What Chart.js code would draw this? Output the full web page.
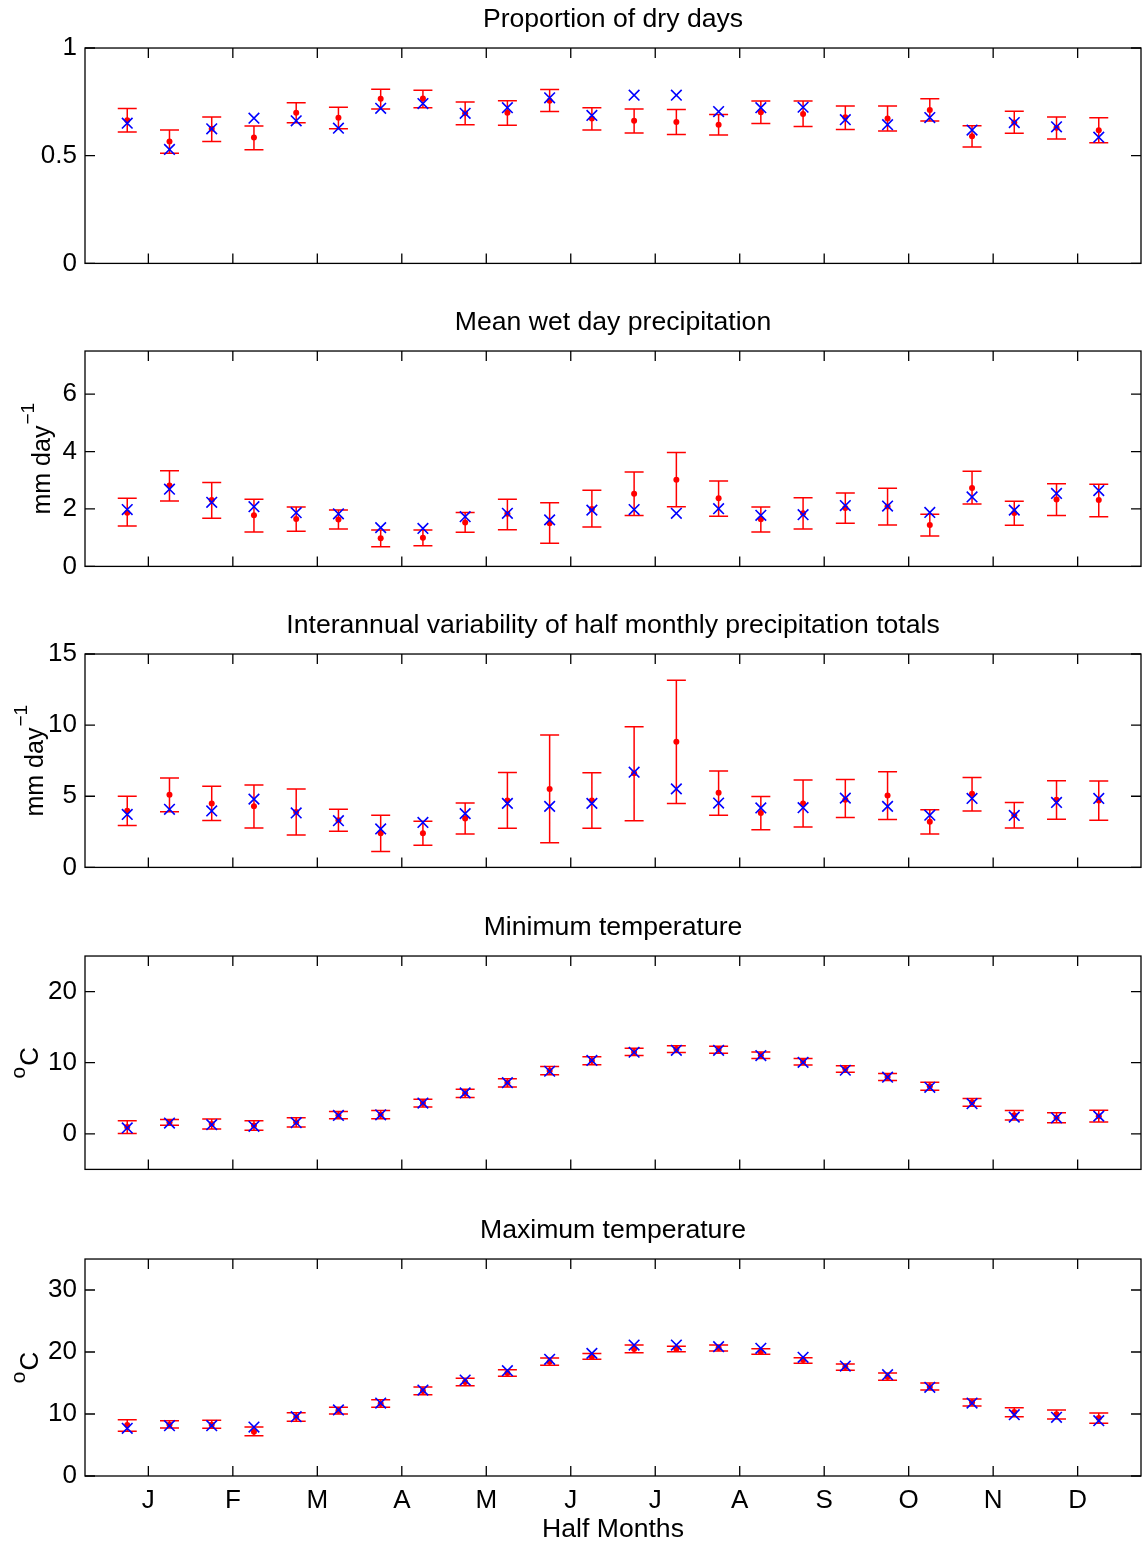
<!DOCTYPE html>
<html>
<head>
<meta charset="utf-8">
<title>Half monthly climate statistics</title>
<script src="https://cdn.jsdelivr.net/npm/chart.js@4.4.1/dist/chart.umd.min.js"></script>
<style>
  body { margin: 0; background: #fff; }
  #fig { position: relative; width: 1142px; height: 1549px; }
  #fig canvas { position: absolute; left: 0; }
</style>
</head>
<body>
<div id="fig">
  <canvas id="dry" width="1142" height="287" style="top:0px"></canvas>
  <canvas id="wet" width="1142" height="287" style="top:303px"></canvas>
  <canvas id="ivar" width="1142" height="285" style="top:606px"></canvas>
  <canvas id="tmin" width="1142" height="285" style="top:908px"></canvas>
  <canvas id="tmax" width="1142" height="338" style="top:1211px"></canvas>
</div>
<script>
// x positions (half months) and month ticks
const halfMonths = [1, 2, 3, 4, 5, 6, 7, 8, 9, 10, 11, 12, 13, 14, 15, 16, 17, 18, 19, 20, 21, 22, 23, 24];
const monthTicks = [1.5, 3.5, 5.5, 7.5, 9.5, 11.5, 13.5, 15.5, 17.5, 19.5, 21.5, 23.5];
const monthLabels = ['J', 'F', 'M', 'A', 'M', 'J', 'J', 'A', 'S', 'O', 'N', 'D'];

// Proportion of dry days
const dryObs  = [0.651, 0.529, 0.625, 0.674, 0.662, 0.628, 0.720, 0.742, 0.697, 0.723, 0.769, 0.687, 0.781, 0.781, 0.705, 0.723, 0.725, 0.667, 0.644, 0.677, 0.619, 0.654, 0.634, 0.586];
const dryMean = [0.665, 0.566, 0.625, 0.584, 0.700, 0.676, 0.764, 0.766, 0.697, 0.700, 0.755, 0.673, 0.662, 0.656, 0.644, 0.702, 0.694, 0.679, 0.673, 0.712, 0.590, 0.654, 0.630, 0.618];
const dryLow  = [0.610, 0.511, 0.566, 0.528, 0.653, 0.625, 0.717, 0.723, 0.644, 0.642, 0.705, 0.619, 0.606, 0.598, 0.596, 0.650, 0.636, 0.622, 0.615, 0.661, 0.541, 0.604, 0.578, 0.560];
const dryHigh = [0.719, 0.619, 0.680, 0.638, 0.746, 0.725, 0.809, 0.804, 0.749, 0.755, 0.807, 0.723, 0.717, 0.714, 0.691, 0.754, 0.754, 0.731, 0.731, 0.765, 0.639, 0.706, 0.680, 0.676];
const dryTicks = [0, 0.5, 1];

// Mean wet day precipitation
const wetObs  = [1.98, 2.69, 2.23, 2.08, 1.87, 1.83, 1.35, 1.32, 1.73, 1.85, 1.62, 1.96, 1.98, 1.85, 2.01, 1.78, 1.80, 2.12, 2.10, 1.88, 2.42, 1.96, 2.54, 2.64];
const wetMean = [1.87, 2.82, 2.31, 1.78, 1.65, 1.63, 0.98, 1.00, 1.53, 1.83, 1.50, 2.00, 2.53, 3.02, 2.37, 1.64, 1.85, 2.03, 2.09, 1.44, 2.73, 1.86, 2.33, 2.31];
const wetLow  = [1.41, 2.28, 1.68, 1.20, 1.22, 1.30, 0.68, 0.72, 1.19, 1.28, 0.81, 1.37, 1.77, 2.08, 1.75, 1.20, 1.30, 1.50, 1.44, 1.06, 2.17, 1.43, 1.77, 1.73];
const wetHigh = [2.37, 3.33, 2.92, 2.34, 2.07, 1.96, 1.27, 1.27, 1.88, 2.34, 2.22, 2.65, 3.29, 3.97, 2.97, 2.07, 2.39, 2.56, 2.72, 1.82, 3.31, 2.27, 2.88, 2.86];
const wetTicks = [0, 2, 4, 6];

// Interannual variability of half monthly totals
const varObs  = [3.72, 4.08, 3.97, 4.80, 3.83, 3.28, 2.70, 3.16, 3.78, 4.50, 4.29, 4.50, 6.69, 5.52, 4.52, 4.18, 4.20, 4.87, 4.29, 3.67, 4.85, 3.65, 4.57, 4.85];
const varMean = [3.99, 5.10, 4.50, 4.29, 3.90, 3.32, 2.40, 2.40, 3.44, 4.71, 5.52, 4.71, 6.62, 8.84, 5.24, 3.83, 4.50, 4.75, 5.05, 3.21, 5.17, 3.67, 4.75, 4.71];
const varLow  = [2.95, 3.92, 3.30, 2.77, 2.28, 2.54, 1.11, 1.55, 2.35, 2.75, 1.73, 2.75, 3.28, 4.50, 3.67, 2.65, 2.84, 3.51, 3.37, 2.35, 3.97, 2.77, 3.39, 3.32];
const varHigh = [5.01, 6.28, 5.70, 5.79, 5.52, 4.08, 3.67, 3.25, 4.52, 6.67, 9.30, 6.65, 9.88, 13.15, 6.78, 4.98, 6.14, 6.18, 6.72, 4.06, 6.32, 4.57, 6.09, 6.07];
const varTicks = [0, 5, 10, 15];

// Minimum temperature
const tminObs  = [0.83, 1.52, 1.29, 1.06, 1.57, 2.58, 2.67, 4.33, 5.76, 7.19, 8.80, 10.32, 11.47, 11.75, 11.75, 11.01, 10.05, 8.94, 7.97, 6.54, 4.24, 2.35, 2.26, 2.49];
const tminMean = [0.95, 1.62, 1.38, 1.18, 1.62, 2.63, 2.70, 4.33, 5.70, 7.17, 8.87, 10.28, 11.52, 11.92, 11.82, 11.06, 10.14, 9.13, 8.00, 6.69, 4.43, 2.61, 2.26, 2.49];
const tminLow  = [0.05, 1.20, 0.69, 0.51, 0.97, 2.12, 2.12, 3.78, 5.12, 6.59, 8.29, 9.72, 11.01, 11.43, 11.34, 10.60, 9.68, 8.66, 7.51, 6.13, 3.87, 1.94, 1.57, 1.66];
const tminHigh = [1.84, 2.03, 2.07, 1.84, 2.26, 3.13, 3.27, 4.88, 6.27, 7.74, 9.45, 10.83, 12.03, 12.40, 12.30, 11.52, 10.60, 9.59, 8.48, 7.24, 4.98, 3.27, 2.95, 3.32];
const tminTicks = [0, 10, 20];

// Maximum temperature
const tmaxObs  = [7.69, 8.12, 8.12, 7.90, 9.57, 10.65, 11.77, 13.87, 15.48, 16.99, 18.82, 19.78, 21.13, 21.13, 20.86, 20.59, 19.14, 17.74, 16.34, 14.30, 11.77, 9.89, 9.46, 8.92];
const tmaxMean = [8.23, 8.28, 8.28, 7.15, 9.52, 10.54, 11.67, 13.71, 15.16, 16.61, 18.44, 19.25, 20.48, 20.48, 20.70, 20.00, 18.71, 17.58, 16.02, 14.35, 11.88, 10.32, 9.95, 9.35];
const tmaxLow  = [7.20, 7.74, 7.69, 6.51, 8.82, 10.00, 11.08, 13.12, 14.57, 16.08, 17.85, 18.82, 19.89, 20.05, 20.16, 19.62, 18.17, 17.04, 15.43, 13.87, 11.29, 9.57, 9.19, 8.49];
const tmaxHigh = [9.09, 8.92, 8.98, 7.90, 10.22, 11.08, 12.31, 14.35, 15.75, 17.15, 19.03, 19.78, 21.13, 20.91, 21.13, 20.54, 19.09, 18.06, 16.61, 15.00, 12.42, 11.02, 10.65, 10.16];
const tmaxTicks = [0, 10, 20, 30];

const FONT = "'Liberation Sans', Arial, Helvetica, sans-serif";

// red error bars, drawn under the markers
function errorBarPlugin(low, high) {
  return {
    id: 'errorBars',
    beforeDatasetsDraw(chart) {
      const { ctx, scales: { x, y } } = chart;
      ctx.save();
      ctx.strokeStyle = '#ff0000';
      ctx.lineWidth = 1.5;
      ctx.beginPath();
      low.forEach((lo, i) => {
        const px = x.getPixelForValue(halfMonths[i]);
        const y1 = y.getPixelForValue(lo);
        const y2 = y.getPixelForValue(high[i]);
        ctx.moveTo(px, y1); ctx.lineTo(px, y2);
        ctx.moveTo(px - 9.5, y1); ctx.lineTo(px + 9.5, y1);
        ctx.moveTo(px - 9.5, y2); ctx.lineTo(px + 9.5, y2);
      });
      ctx.stroke();
      ctx.restore();
    }
  };
}

// box round the axes with inward tick marks on all four sides
function framePlugin(yTicks) {
  return {
    id: 'frame',
    afterDraw(chart) {
      const { ctx, chartArea: a, scales: { x, y } } = chart;
      const len = 10;
      ctx.save();
      ctx.strokeStyle = '#000';
      ctx.lineWidth = 1.3;
      ctx.strokeRect(a.left, a.top, a.right - a.left, a.bottom - a.top);
      ctx.beginPath();
      monthTicks.forEach(t => {
        const px = x.getPixelForValue(t);
        ctx.moveTo(px, a.bottom); ctx.lineTo(px, a.bottom - len);
        ctx.moveTo(px, a.top); ctx.lineTo(px, a.top + len);
      });
      yTicks.forEach(t => {
        const py = y.getPixelForValue(t);
        ctx.moveTo(a.left, py); ctx.lineTo(a.left + len, py);
        ctx.moveTo(a.right, py); ctx.lineTo(a.right - len, py);
      });
      ctx.stroke();
      ctx.restore();
    }
  };
}

// rotated y label with a raised part (mm day^-1, ^oC)
function yLabelPlugin(lab) {
  return {
    id: 'yLabel',
    afterDraw(chart) {
      if (!lab) return;
      const { ctx, chartArea: a } = chart;
      const mainFont = lab.size + 'px ' + FONT;
      const supFont = lab.supSize + 'px ' + FONT;
      ctx.save();
      ctx.fillStyle = '#000';
      ctx.textBaseline = 'alphabetic';
      ctx.textAlign = 'left';
      ctx.font = mainFont;
      const wMain = ctx.measureText(lab.main).width;
      ctx.font = supFont;
      const wSup = ctx.measureText(lab.sup).width;
      ctx.translate(lab.x, (a.top + a.bottom) / 2);
      ctx.rotate(-Math.PI / 2);
      let x0 = -(wMain + wSup + lab.gap) / 2;
      if (lab.supFirst) {
        ctx.font = supFont;
        ctx.fillText(lab.sup, x0, -lab.raise);
        ctx.font = mainFont;
        ctx.fillText(lab.main, x0 + wSup + lab.gap, 0);
      } else {
        ctx.font = mainFont;
        ctx.fillText(lab.main, x0, 0);
        ctx.font = supFont;
        ctx.fillText(lab.sup, x0 + wMain + lab.gap, -lab.raise);
      }
      ctx.restore();
    }
  };
}

const mmLabel = { main: 'mm day', sup: '\u22121', size: 25, supSize: 19, raise: 16, gap: 1, x: 50 };
const mmLabelWide = { ...mmLabel, x: 43 };
const degLabel = { main: 'C', sup: 'o', size: 26, supSize: 21, raise: 13, gap: 1, x: 38, supFirst: true };

function makePanel(id, p) {
  const pts = arr => halfMonths.map((h, i) => ({ x: h, y: arr[i] }));
  const last = !!p.last;
  return new Chart(document.getElementById(id), {
    type: 'scatter',
    data: {
      datasets: [
        {
          label: 'Observed',
          data: pts(p.obs),
          pointStyle: 'crossRot',
          radius: 7.5,
          borderColor: '#0000ff',
          borderWidth: 1.6,
          backgroundColor: '#0000ff'
        },
        {
          label: 'Simulated mean',
          data: pts(p.mean),
          pointStyle: 'circle',
          radius: 3,
          borderWidth: 0,
          backgroundColor: '#ff0000'
        }
      ]
    },
    options: {
      responsive: false,
      animation: false,
      devicePixelRatio: 1,
      events: [],
      layout: { autoPadding: false, padding: { left: 0, right: 1, top: 0, bottom: 0 } },
      plugins: {
        legend: { display: false },
        tooltip: { enabled: false },
        title: {
          display: true,
          text: p.title,
          fullSize: false,
          color: '#000',
          font: { family: FONT, size: 26.6, weight: 'normal', lineHeight: 1.2 },
          padding: { top: 4, bottom: 12.1 }
        }
      },
      scales: {
        x: {
          type: 'linear',
          min: 0,
          max: 25,
          grid: { display: false, drawTicks: false },
          border: { display: false },
          afterBuildTicks: s => { s.ticks = monthTicks.map(v => ({ value: v })); },
          afterFit: s => { s.height = last ? 73 : 20; },
          ticks: {
            display: last,
            padding: 9,
            maxRotation: 0,
            color: '#000',
            font: { family: FONT, size: 26 },
            callback: (v, i) => monthLabels[i]
          },
          title: {
            display: last,
            text: 'Half Months',
            color: '#000',
            font: { family: FONT, size: 26.6 },
            padding: { top: 0, bottom: 3 }
          }
        },
        y: {
          min: p.min,
          max: p.max,
          grid: { display: false, drawTicks: false },
          border: { display: false },
          afterBuildTicks: s => { s.ticks = p.ticks.map(v => ({ value: v })); },
          afterFit: s => { s.width = 85; },
          ticks: {
            padding: 8,
            color: '#000',
            font: { family: FONT, size: 26 },
            callback: v => String(v)
          }
        }
      }
    },
    plugins: [errorBarPlugin(p.low, p.high), framePlugin(p.ticks), yLabelPlugin(p.ylabel)]
  });
}

makePanel('dry', {
  title: 'Proportion of dry days', min: 0, max: 1, ticks: dryTicks,
  obs: dryObs, mean: dryMean, low: dryLow, high: dryHigh
});
makePanel('wet', {
  title: 'Mean wet day precipitation', min: 0, max: 7.5, ticks: wetTicks, ylabel: mmLabel,
  obs: wetObs, mean: wetMean, low: wetLow, high: wetHigh
});
makePanel('ivar', {
  title: 'Interannual variability of half monthly precipitation totals', min: 0, max: 15, ticks: varTicks, ylabel: mmLabelWide,
  obs: varObs, mean: varMean, low: varLow, high: varHigh
});
makePanel('tmin', {
  title: 'Minimum temperature', min: -5, max: 25, ticks: tminTicks, ylabel: degLabel,
  obs: tminObs, mean: tminMean, low: tminLow, high: tminHigh
});
makePanel('tmax', {
  title: 'Maximum temperature', min: 0, max: 35, ticks: tmaxTicks, ylabel: degLabel, last: true,
  obs: tmaxObs, mean: tmaxMean, low: tmaxLow, high: tmaxHigh
});
</script>
</body>
</html>
